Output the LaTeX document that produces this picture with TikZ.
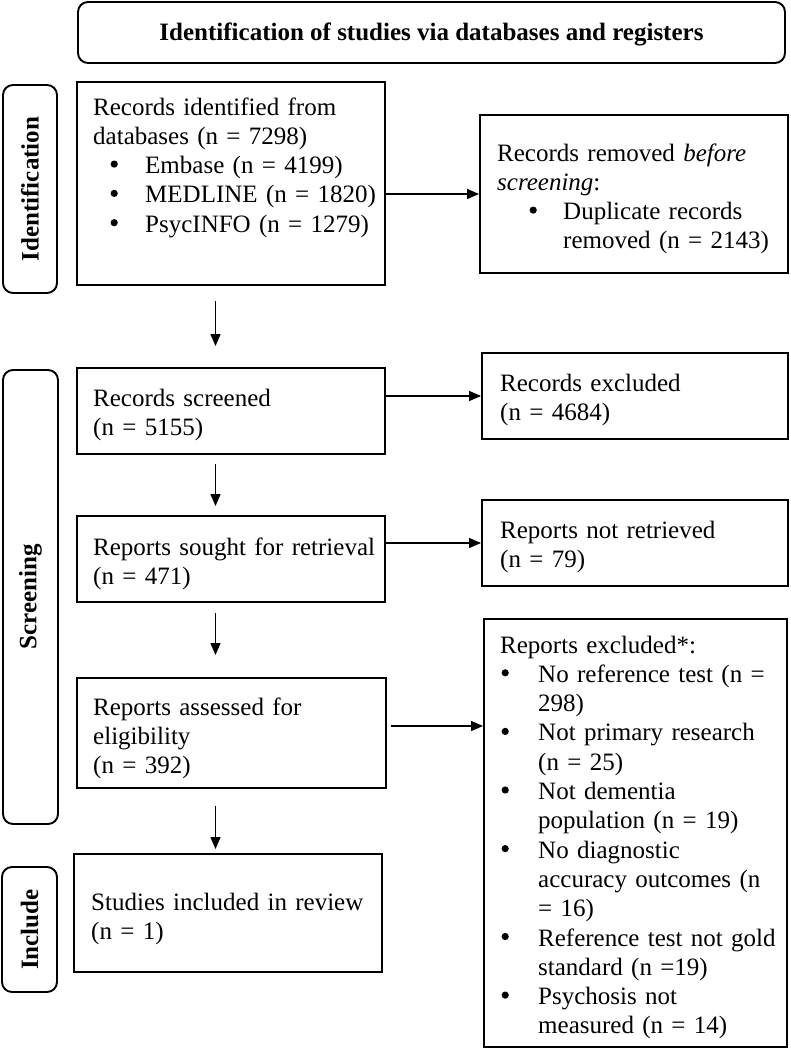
\documentclass[tikz,border=0pt]{standalone}
\usepackage{fontspec}
\setmainfont{Liberation Serif}
\usetikzlibrary{arrows.meta}
\newcommand{\pbul}[2]{\hspace*{#1pt}\makebox[#2pt][l]{\tikz[baseline=0pt]\fill (3.6pt,9.5pt) circle (3.6pt);}}
\newcommand{\pind}[1]{\hspace*{#1pt}}
\begin{document}
\begin{tikzpicture}[x=1pt,y=-1pt,
  box/.style={draw, line width=1.9pt, inner sep=0pt},
  lab/.style={draw, line width=1.9pt, inner sep=0pt, rounded corners=10pt},
  txt/.style={anchor=base west, inner sep=0pt, text width=300pt, align=left, font=\fontsize{25}{29.3}\selectfont},
  vlab/.style={rotate=90, inner sep=0pt, font=\fontsize{25}{29}\selectfont\bfseries},
  arr/.style={line width=1.3pt, -{Triangle[length=12pt,width=10pt]}}]
\useasboundingbox (0,0) rectangle (790,1049);
% header
\node[lab, minimum width=707pt, minimum height=61pt] (head) at (431.5,32.5) {};
\node[anchor=base, inner sep=0pt, font=\fontsize{25}{29}\selectfont\bfseries] (headt) at (431.5,41) {Identification of studies via databases and registers};
% side labels
\node[lab, minimum width=54pt, minimum height=208pt] (idlab) at (30,189) {};
\node[vlab] (idlabt) at (idlab.center) {Identification};
\node[lab, minimum width=55pt, minimum height=454pt] (scrlab) at (30.5,597) {};
\node[vlab] (scrlabt) at (scrlab.center) {Screening};
\node[lab, minimum width=55pt, minimum height=125pt] (inclab) at (29.5,929.5) {};
\node[vlab] (inclabt) at (inclab.center) {Include};
% boxes
\node[box, minimum width=308pt, minimum height=203pt] (box1) at (231,183.5) {};
\node[box, minimum width=308pt, minimum height=158pt] (removed) at (634,194) {};
\node[box, minimum width=308pt, minimum height=86pt] (screened) at (231,411) {};
\node[box, minimum width=306pt, minimum height=86pt] (excl) at (635,396) {};
\node[box, minimum width=308pt, minimum height=86pt] (sought) at (231,559) {};
\node[box, minimum width=306pt, minimum height=86pt] (notret) at (635,543) {};
\node[box, minimum width=309pt, minimum height=110pt] (assessed) at (231.5,733) {};
\node[box, minimum width=303pt, minimum height=428pt] (repexcl) at (635.5,833) {};
\node[box, minimum width=308pt, minimum height=118pt] (included) at (228,913) {};
% texts
\node[txt] (t1) at (93,115) {Records identified from\\databases (n = 7298)\\\pbul{17.4}{34.6}Embase (n = 4199)\\\pbul{17.4}{34.6}MEDLINE (n = 1820)\\\pbul{17.4}{34.6}PsycINFO (n = 1279)};
\node[txt] (t2) at (497,161) {Records removed \textit{before}\\\textit{screening}:\\\pbul{32.4}{33.6}Duplicate records\\\pind{66}removed (n = 2143)};
\node[txt] (t3) at (93,406) {Records screened\\(n = 5155)};
\node[txt] (t4) at (500,391) {Records excluded\\(n = 4684)};
\node[txt] (t5) at (93,555) {Reports sought for retrieval\\(n = 471)};
\node[txt] (t6) at (500,538) {Reports not retrieved\\(n = 79)};
\node[txt] (t7) at (93,715) {Reports assessed for\\eligibility\\(n = 392)};
\node[txt] (t8) at (91,910) {Studies included in review\\(n = 1)};
\node[txt] (t9) at (500,653) {Reports excluded*:\\
\pbul{1.4}{36.6}No reference test (n =\\\pind{38}298)\\
\pbul{1.4}{36.6}Not primary research\\\pind{38}(n = 25)\\
\pbul{1.4}{36.6}Not dementia\\\pind{38}population (n = 19)\\
\pbul{1.4}{36.6}No diagnostic\\\pind{38}accuracy outcomes (n\\\pind{38}= 16)\\
\pbul{1.4}{36.6}Reference test not gold\\\pind{38}standard (n =19)\\
\pbul{1.4}{36.6}Psychosis not\\\pind{38}measured (n = 14)};
% connectors
\coordinate (ax) at (215.5,0);
\coordinate (ay4) at (0,726);
\draw[arr] (box1.east |- removed.west) -- (removed.west);
\draw[arr] (screened.east |- excl.west) -- (excl.west);
\draw[arr] (sought.east |- notret.west) -- (notret.west);
\draw[arr, shorten <=4pt, shorten >=0pt] (assessed.east |- ay4) -- (repexcl.west |- ay4);
\draw[arr, shorten <=15pt, shorten >=21pt] (box1.south -| ax) -- (screened.north -| ax);
\draw[arr, shorten <=9pt, shorten >=9pt] (screened.south -| ax) -- (sought.north -| ax);
\draw[arr, shorten <=10pt, shorten >=22pt] (sought.south -| ax) -- (assessed.north -| ax);
\draw[arr, shorten <=17pt, shorten >=4pt] (assessed.south -| ax) -- (included.north -| ax);
\end{tikzpicture}
\end{document}
